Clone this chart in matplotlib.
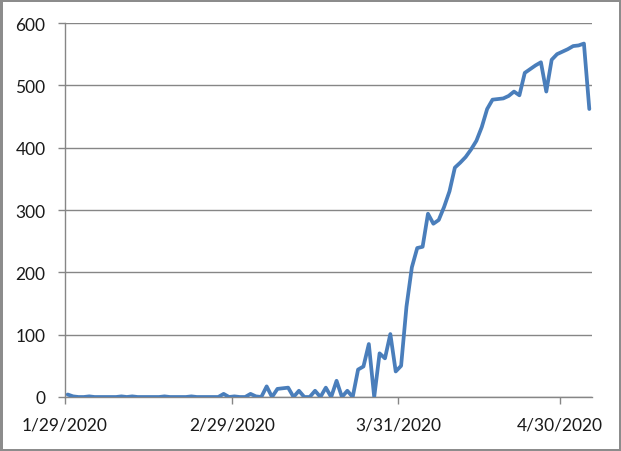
import pandas as pd
import matplotlib
matplotlib.use("Agg")
import matplotlib.pyplot as plt

plt.rcParams["font.family"] = ["Lato", "DejaVu Sans"]

# daily values, 1/29/2020 .. 5/5/2020
start_date = "2020-01-29"
values = [
    4, 1, 0, 0, 1, 0, 0, 0, 0, 0,
    1, 0, 1, 0, 0, 0, 0, 0, 1, 0,
    0, 0, 0, 1, 0, 0, 0, 0, 0, 5,
    0, 1, 0, 0, 5, 1, 0, 17, 0, 13,
    14, 15, 0, 10, 0, 0, 10, 0, 15, 0,
    26, 0, 10, 0, 44, 49, 85, 0, 70, 62,
    101, 41, 50, 145, 208, 239, 241, 294, 278, 284,
    305, 330, 368, 376, 385, 397, 411, 433, 462, 477,
    478, 479, 483, 490, 484, 520, 526, 532, 537, 490,
    541, 550, 554, 558, 563, 564, 567, 462,
]
tick_dates = ["2020-01-29", "2020-02-29", "2020-03-31", "2020-04-30"]
tick_labels = ["1/29/2020", "2/29/2020", "3/31/2020", "4/30/2020"]
y_ticks = [0, 100, 200, 300, 400, 500, 600]

dates = pd.date_range(start_date, periods=len(values), freq="D")
# Excel date axis puts each point in the middle of its day
x = dates + pd.Timedelta(hours=12)

W, H = 621, 452
fig = plt.figure(figsize=(W / 100, H / 100), dpi=100,
                 linewidth=2.5, edgecolor="#8c8c8c")
ax = fig.add_axes([65 / W, 1 - 398 / H, (592 - 65) / W, (398 - 24) / H])

ax.plot(x, values, color="#4a7ebb", lw=2.7, solid_joinstyle="round",
        solid_capstyle="round", zorder=3)

ax.set_xlim(dates[0], dates[0] + pd.Timedelta(days=len(values)))
ax.set_ylim(0, 600)
ax.set_yticks(y_ticks)
ax.set_xticks(pd.to_datetime(tick_dates))
ax.set_xticklabels(tick_labels)

ax.grid(axis="y", color="#868686", lw=1)
ax.set_axisbelow(True)
for s in ["top", "right"]:
    ax.spines[s].set_visible(False)
for s in ["left", "bottom"]:
    ax.spines[s].set_color("#868686")
    ax.spines[s].set_linewidth(1)

ax.tick_params(axis="y", length=5, width=1, color="#868686", pad=9,
               labelsize=12.5, labelcolor="#1a1a1a")
ax.tick_params(axis="x", length=5, width=1, color="#868686", pad=9,
               labelsize=12.5, labelcolor="#1a1a1a")

fig.savefig("out.png", dpi=100)
